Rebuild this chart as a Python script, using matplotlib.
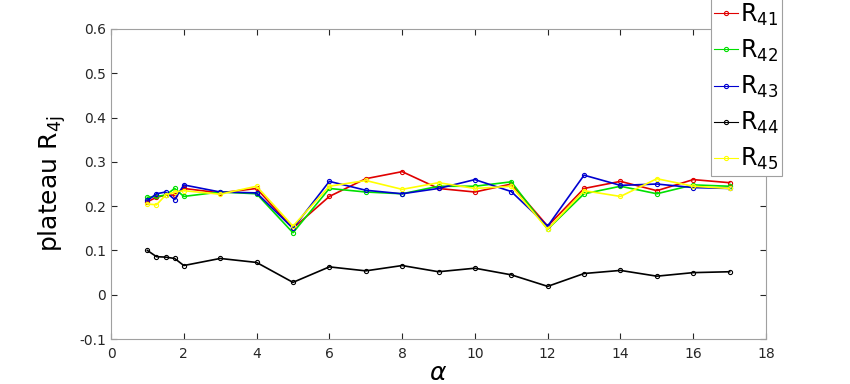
import numpy as np
import matplotlib
matplotlib.use('Agg')
import matplotlib.pyplot as plt

# alpha values
alpha = [1, 1.25, 1.5, 1.75, 2, 3, 4, 5, 6, 7, 8, 9, 10, 11, 12, 13, 14, 15, 16, 17]

R41 = [0.210, 0.220, 0.225, 0.225, 0.240, 0.230, 0.240, 0.150, 0.222, 0.262, 0.278, 0.240,
       0.232, 0.250, 0.155, 0.240, 0.256, 0.235, 0.260, 0.253]
R42 = [0.220, 0.222, 0.225, 0.240, 0.222, 0.232, 0.228, 0.140, 0.240, 0.232, 0.228, 0.245,
       0.245, 0.255, 0.148, 0.228, 0.245, 0.228, 0.248, 0.245]
R43 = [0.213, 0.228, 0.232, 0.215, 0.248, 0.232, 0.230, 0.150, 0.256, 0.236, 0.228, 0.240,
       0.260, 0.233, 0.155, 0.270, 0.247, 0.250, 0.242, 0.240]
R44 = [0.100, 0.086, 0.085, 0.082, 0.066, 0.082, 0.073, 0.028, 0.063, 0.054, 0.066, 0.052,
       0.060, 0.045, 0.019, 0.048, 0.055, 0.042, 0.050, 0.052]
R45 = [0.205, 0.203, 0.225, 0.232, 0.235, 0.227, 0.245, 0.155, 0.245, 0.258, 0.238, 0.253,
       0.240, 0.245, 0.148, 0.235, 0.222, 0.262, 0.245, 0.240]

series = [R41, R42, R43, R44, R45]
labels = ['R$_{41}$', 'R$_{42}$', 'R$_{43}$', 'R$_{44}$', 'R$_{45}$']
colors = ['#e00000', '#00e000', '#0000d0', '#000000', '#ffff00']

fig = plt.figure(figsize=(8.5, 3.84), dpi=100)
ax = fig.add_axes([0.1306, 0.117, 0.7706, 0.8075])

for y, lab, c in zip(series, labels, colors):
    ax.plot(alpha, y, color=c, lw=1.2, marker='o', ms=3, mfc='none', mew=0.8, label=lab)

ax.set_xlim(0, 18)
ax.set_ylim(-0.1, 0.6)
ax.set_xticks(np.arange(0, 19, 2))
ax.set_yticks(np.arange(-0.1, 0.61, 0.1))
ax.set_yticklabels(['-0.1', '0', '0.1', '0.2', '0.3', '0.4', '0.5', '0.6'])
ax.tick_params(direction='in', labelsize=10, colors='#262626', length=4, top=True, right=True)
ax.tick_params(axis='x', pad=6)
for s in ax.spines.values():
    s.set_color('#a0a0a0')
    s.set_linewidth(0.8)

ax.set_xlabel(r'$\alpha$', fontsize=18, labelpad=0)
ax.set_ylabel(r'plateau R$_{\mathrm{4j}}$', fontsize=18, labelpad=8)

leg = fig.legend(loc='upper left', bbox_to_anchor=(0.836, 1.005), fontsize=17,
                 handlelength=1.0, handletextpad=0.1, borderpad=0.15, labelspacing=0.42,
                 borderaxespad=0, fancybox=False, edgecolor='#a0a0a0', framealpha=1)
leg.get_frame().set_linewidth(0.8)
for h in leg.legend_handles:
    h.set_linewidth(0.8)

fig.savefig('out.png', dpi=100)
